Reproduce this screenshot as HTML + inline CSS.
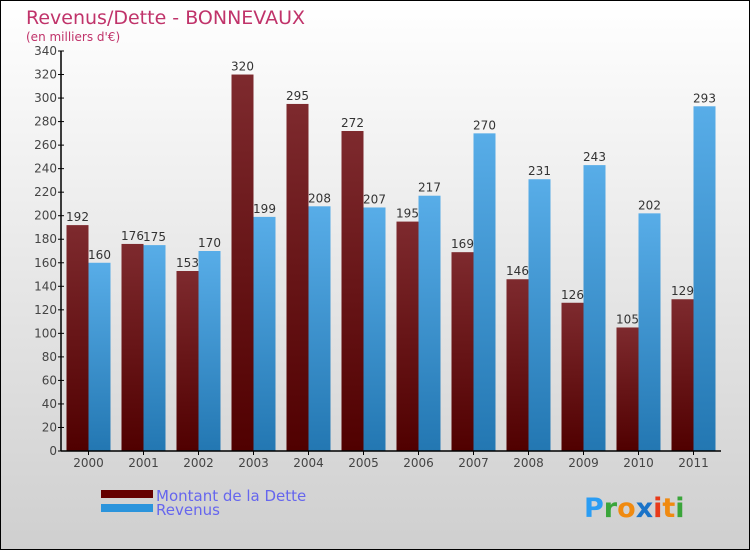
<!DOCTYPE html>
<html><head><meta charset="utf-8"><style>
body{margin:0}
#c{width:748px;height:548px;border:1px solid #000;background:linear-gradient(#fff,#cfcfcf);position:relative;font-family:"DejaVu Sans","Liberation Sans",sans-serif;overflow:hidden}
</style></head><body>
<div id="c">
<svg id="s" width="748" height="548">
<defs>
<linearGradient id="gd" x1="0" y1="0" x2="0" y2="1"><stop offset="0" stop-color="#7e2a2e"/><stop offset="1" stop-color="#500000"/></linearGradient>
<linearGradient id="gr" x1="0" y1="0" x2="0" y2="1"><stop offset="0" stop-color="#58ade8"/><stop offset="1" stop-color="#2377b2"/></linearGradient>
</defs>
<text x="25" y="23" font-size="19" fill="#c0336a">Revenus/Dette - BONNEVAUX</text>
<text x="25" y="40" font-size="12" fill="#c0336a">(en milliers d'€)</text>
<g id="plot"></g>
<rect x="100" y="489" width="52" height="8" fill="#650000"/>
<rect x="100" y="503" width="52" height="8" fill="#2b94dc"/>
<text x="155" y="500" font-size="15" fill="#6666ee">Montant de la Dette</text>
<text x="155" y="514" font-size="15" fill="#6666ee">Revenus</text>
<text x="583" y="516" font-size="27" font-weight="bold"><tspan fill="#2a9df4">P</tspan><tspan fill="#3aa53a">r</tspan><tspan fill="#f08a10">o</tspan><tspan fill="#1a73c8">x</tspan><tspan fill="#e83a1a">i</tspan><tspan fill="#f08a10">t</tspan><tspan fill="#3aa53a">i</tspan></text>
</svg></div>
<script>
const years=["2000","2001","2002","2003","2004","2005","2006","2007","2008","2009","2010","2011"];
const dette=[192,176,153,320,295,272,195,169,146,126,105,129];
const revenus=[160,175,170,199,208,207,217,270,231,243,202,293];
const yTicks=[0,20,40,60,80,100,120,140,160,180,200,220,240,260,280,300,320,340];
const NS="http://www.w3.org/2000/svg";
const g=document.getElementById('plot');
const x0=60,yb=450,yt=50,ymax=340,gw=55,bw=22;
const y=v=>yb-(v/ymax)*(yb-yt);
function mk(t,a){const e=document.createElementNS(NS,t);for(const k in a)e.setAttribute(k,a[k]);g.appendChild(e);return e;}
years.forEach((yr,i)=>{
 const cx=x0+gw*(i+0.5);
 const b1=mk('rect',{x:cx-bw,y:y(dette[i]),width:bw,height:yb-y(dette[i]),fill:'url(#gd)'});
 
 
 const b2=mk('rect',{x:cx,y:y(revenus[i]),width:bw,height:yb-y(revenus[i]),fill:'url(#gr)'});
 
 
 const l1=mk('text',{x:cx-bw/2,y:y(dette[i])-4,'font-size':12,fill:'#333','text-anchor':'middle'});l1.textContent=dette[i];
 
 
 const l2=mk('text',{x:cx+bw/2,y:y(revenus[i])-4,'font-size':12,fill:'#333','text-anchor':'middle'});l2.textContent=revenus[i];
 
 
 mk('line',{x1:cx,x2:cx,y1:yb,y2:yb+4,stroke:'#000'});
 const xl=mk('text',{x:cx,y:yb+16,'font-size':12,fill:'#444','text-anchor':'middle'});xl.textContent=yr;
 
 
});
yTicks.forEach(v=>{
 mk('line',{x1:x0-3,x2:x0+3,y1:y(v),y2:y(v),stroke:'#000'});
 const t=mk('text',{x:x0-4,y:y(v)+4,'font-size':12,fill:'#444','text-anchor':'end'});t.textContent=v;
 
 
});
const ya=mk('line',{x1:x0,x2:x0,y1:yt,y2:yb,stroke:'#000','stroke-width':1.5});


const xa=mk('line',{x1:x0,x2:x0+gw*12,y1:yb,y2:yb,stroke:'#000','stroke-width':1.5});


</script>
</body></html>
